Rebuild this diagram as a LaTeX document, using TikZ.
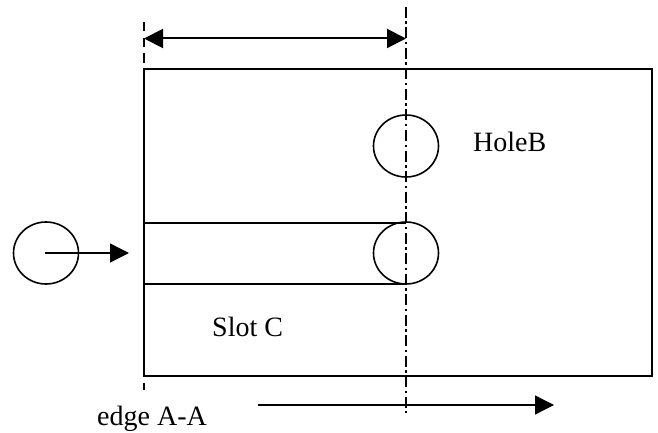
\documentclass[tikz,border=0pt]{standalone}
\usepackage{fontspec}
\setmainfont{Liberation Serif}
\usetikzlibrary{arrows.meta,shapes.geometric}
\tikzset{
  part/.style={draw=black,line width=1.6pt},
  hole/.style={part,ellipse,inner sep=0pt,minimum width=65pt,minimum height=62pt},
  centerline/.style={draw=black,line width=2pt,dash pattern=on 11pt off 3.5pt on 2.5pt off 3.5pt},
  edgeline/.style={draw=black,line width=2pt,dash pattern=on 9.5pt off 6.2pt},
  dimarrow/.style={draw=black,line width=2pt,{Triangle[length=19pt,width=19pt]}-{Triangle[length=19pt,width=19pt]}},
  flowarrow/.style={draw=black,line width=1.3pt,-{Triangle[length=19pt,width=19pt]}},
  label/.style={font=\fontsize{28}{30}\selectfont,inner sep=0pt,anchor=base west,text=black}
}
\begin{document}
\begin{tikzpicture}[x=1pt,y=-1pt]
\useasboundingbox (0,0) rectangle (658,433);
\coordinate (edgeTop) at (144,22);
\coordinate (edgeBot) at (144,390);
\coordinate (centerTop) at (406,7);
\coordinate (centerBot) at (406,413);
\coordinate (dimL) at (144,38.5);
\coordinate (dimR) at (406,38.5);
\coordinate (slotTL) at (144,223);
\coordinate (slotTR) at (406,223);
\coordinate (slotBL) at (144,284);
\coordinate (slotBR) at (406,284);
\coordinate (flowS) at (45,253);
\coordinate (flowE) at (129,253);
\coordinate (feedS) at (258,405);
\coordinate (feedE) at (554,405);
\node[part,rectangle,inner sep=0pt,minimum width=508pt,minimum height=307pt] (plate) at (398,222.5) {};
\node[hole] (holeB) at (406,146) {};
\node[hole] (slotEnd) at (406,253) {};
\node[hole] (tool) at (46,253) {};
\draw[part] (slotTL) -- (slotTR);
\draw[part] (slotBL) -- (slotBR);
\draw[edgeline] (edgeTop) -- (edgeBot);
\draw[centerline] (centerTop) -- (centerBot);
\draw[dimarrow] (dimL) -- (dimR);
\draw[flowarrow] (flowS) -- (flowE);
\draw[flowarrow] (feedS) -- (feedE);
\node[label] (holeLabel) at (473,151) {HoleB};
\node[label] (slotLabel) at (212,336) {Slot C};
\node[label] (edgeLabel) at (97,425) {edge A-A};
\end{tikzpicture}
\end{document}
